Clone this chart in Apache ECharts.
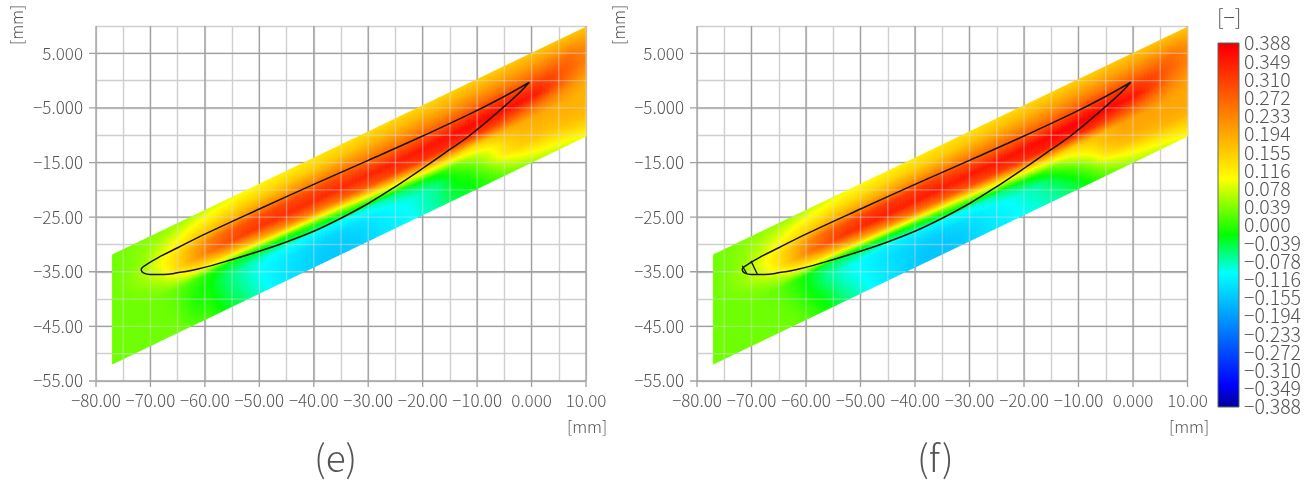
<!DOCTYPE html>
<html><head><meta charset="utf-8">
<style>html,body{margin:0;padding:0;background:#fff}#c{width:1311px;height:484px}</style>
<script src="https://cdn.jsdelivr.net/npm/echarts@6/dist/echarts.min.js"></script>
</head><body><div id="c"></div>
<script>
const xStations=[-77,-74,-71,-68,-65,-62,-59,-56,-53,-50,-47,-44,-41,-38,-35,-32,-29,-26,-23,-20,-17,-14,-11,-8,-5,-2,1,4,7,10];
const bandStations=[0,.1,.2,.3,.4,.5,.6,.7,.8,.9,1];
const bandTopLeft=-31.9, bandTopRight=9.8, bandDepth=20;
const fieldE=[
[.03,.03,.03,.03,.03,.03,.03,.03,.03,.03,.03],
[.035,.035,.035,.04,.035,.03,.03,.03,.03,.03,.03],
[.04,.045,.05,.06,.05,.035,.03,.03,.03,.03,.03],
[.045,.06,.08,.095,.08,.05,.03,.03,.03,.03,.03],
[.05,.08,.11,.14,.14,.08,.025,.02,.025,.03,.03],
[.06,.10,.14,.19,.20,.12,.01,-.005,-.005,.005,.02],
[.075,.115,.16,.24,.25,.14,-.01,-.02,-.015,-.005,.005],
[.085,.125,.18,.27,.29,.16,-.03,-.055,-.05,-.04,-.025],
[.095,.135,.19,.285,.31,.17,-.03,-.075,-.075,-.065,-.05],
[.105,.14,.2,.295,.32,.19,-.02,-.09,-.10,-.095,-.085],
[.11,.145,.205,.30,.325,.21,-.01,-.10,-.115,-.115,-.11],
[.115,.15,.21,.30,.33,.23,.0,-.10,-.125,-.13,-.13],
[.12,.15,.215,.30,.33,.24,.02,-.105,-.135,-.14,-.14],
[.125,.155,.215,.30,.335,.24,.03,-.105,-.14,-.15,-.15],
[.13,.16,.22,.295,.335,.26,.05,-.10,-.14,-.15,-.155],
[.13,.165,.22,.285,.34,.27,.07,-.095,-.13,-.145,-.15],
[.135,.17,.22,.28,.34,.29,.09,-.085,-.12,-.13,-.135],
[.135,.175,.225,.28,.345,.30,.11,-.07,-.105,-.115,-.12],
[.14,.175,.225,.285,.35,.31,.12,-.05,-.095,-.105,-.11],
[.14,.18,.23,.29,.355,.325,.14,-.03,-.08,-.085,-.09],
[.145,.18,.23,.29,.36,.325,.15,-.01,-.06,-.065,-.07],
[.145,.185,.235,.30,.365,.325,.15,.02,-.015,-.03,-.045],
[.15,.19,.24,.31,.37,.325,.14,.06,.01,-.015,-.03],
[.15,.19,.24,.315,.37,.315,.16,.09,.06,.02,-.005],
[.155,.195,.245,.32,.365,.295,.18,.14,.12,.06,.02],
[.16,.195,.245,.31,.365,.275,.19,.17,.15,.09,.04],
[.16,.20,.25,.31,.35,.255,.19,.18,.16,.11,.06],
[.16,.205,.255,.30,.30,.235,.19,.18,.16,.12,.07],
[.16,.21,.26,.27,.25,.21,.185,.185,.17,.13,.08],
[.16,.20,.23,.24,.22,.19,.18,.18,.17,.14,.10]
];
const fieldF=[
[.03,.03,.03,.03,.03,.03,.03,.03,.03,.03,.03],
[.035,.035,.035,.04,.035,.03,.03,.03,.03,.03,.03],
[.04,.045,.05,.055,.05,.035,.03,.03,.03,.03,.03],
[.045,.06,.075,.09,.075,.045,.03,.03,.03,.03,.03],
[.05,.075,.105,.13,.12,.06,.025,.025,.03,.03,.03],
[.055,.095,.13,.18,.185,.10,.0,.005,.015,.025,.03],
[.07,.11,.155,.235,.25,.13,-.03,-.03,-.015,.0,.01],
[.08,.12,.175,.27,.29,.15,-.05,-.07,-.05,-.03,-.015],
[.09,.13,.185,.29,.32,.17,-.05,-.09,-.085,-.07,-.05],
[.10,.135,.195,.305,.335,.19,-.04,-.105,-.105,-.095,-.085],
[.105,.14,.2,.315,.345,.21,-.03,-.115,-.12,-.115,-.11],
[.11,.145,.205,.315,.345,.23,-.02,-.12,-.135,-.13,-.13],
[.115,.15,.21,.315,.345,.245,.0,-.12,-.14,-.145,-.145],
[.12,.15,.215,.315,.35,.255,.02,-.115,-.145,-.155,-.155],
[.125,.155,.215,.305,.35,.27,.04,-.105,-.145,-.155,-.16],
[.13,.16,.22,.30,.35,.28,.06,-.10,-.135,-.15,-.155],
[.13,.165,.22,.29,.355,.295,.08,-.09,-.125,-.135,-.14],
[.135,.17,.225,.285,.355,.305,.10,-.075,-.11,-.12,-.125],
[.135,.175,.225,.285,.36,.315,.11,-.055,-.10,-.11,-.115],
[.14,.175,.23,.29,.365,.33,.13,-.03,-.085,-.095,-.10],
[.14,.18,.23,.29,.37,.34,.14,-.005,-.07,-.08,-.09],
[.145,.185,.235,.30,.375,.34,.15,.03,-.03,-.06,-.075],
[.15,.19,.24,.31,.38,.34,.15,.08,.01,-.03,-.05],
[.15,.19,.245,.32,.38,.33,.17,.12,.06,.01,-.02],
[.155,.195,.245,.325,.375,.31,.18,.17,.13,.06,.015],
[.16,.195,.25,.32,.37,.29,.20,.19,.16,.09,.04],
[.16,.20,.25,.31,.35,.27,.20,.195,.17,.11,.06],
[.16,.205,.255,.30,.30,.25,.20,.195,.175,.12,.07],
[.16,.21,.26,.27,.25,.22,.195,.195,.18,.13,.08],
[.16,.20,.23,.24,.22,.20,.195,.195,.18,.14,.10]
];
const airfoil=[[-0.4,-0.3],[-5.2,-3.0],[-11.3,-6.1],[-19.9,-10.1],[-30,-14.6],[-40,-19],[-50,-23.5],[-60,-28.1],[-65,-30.6],[-68,-32.1],[-70.6,-33.6],[-71.7,-34.6],[-71.3,-35.2],[-70,-35.5],[-67.6,-35.5],[-65.1,-35.2],[-60.9,-34.4],[-54.8,-32.7],[-49.9,-31.2],[-44.9,-29.5],[-39.8,-27.5],[-35.2,-25.3],[-30,-22.5],[-25,-19.4],[-19.9,-16],[-15,-12.6],[-11.3,-10],[-5.2,-4.9],[-2.1,-2.1],[-0.4,-0.3]];
const noseLineA=[[-70.1,-33],[-68.9,-35.5]];
const noseLineB=[[-71.7,-33.9],[-70.9,-35.3]];
const xTicks=[-80,-70,-60,-50,-40,-30,-20,-10,0,10];
const xTickLabels=['−80.00','−70.00','−60.00','−50.00','−40.00','−30.00','−20.00','−10.00','0.000','10.00'];
const yTicks=[-55,-45,-35,-25,-15,-5,5];
const yTickLabels=['−55.00','−45.00','−35.00','−25.00','−15.00','−5.000','5.000'];
const xMinorLines=[-75,-65,-55,-45,-35,-25,-15,-5,5];
const yMinorLines=[-50,-40,-30,-20,-10,0,10];
const scaleLabels=['−0.388','−0.349','−0.310','−0.272','−0.233','−0.194','−0.155','−0.116','−0.078','−0.039','0.000','0.039','0.078','0.116','0.155','0.194','0.233','0.272','0.310','0.349','0.388'];
const colorStops=[[-.388,[0,0,150]],[-.34,[0,0,255]],[-.102,[0,255,255]],[-.021,[0,255,0]],[.098,[255,255,0]],[.375,[255,0,0]],[.388,[225,0,0]]];

function rgbOf(v){
  if(v<=colorStops[0][0])return colorStops[0][1];
  for(let i=1;i<colorStops.length;i++){
    if(v<=colorStops[i][0]){
      const a=colorStops[i-1],b=colorStops[i],t=(v-a[0])/(b[0]-a[0]);
      return a[1].map((c,k)=>Math.round(c+(b[1][k]-c)*t));
    }
  }
  return colorStops[colorStops.length-1][1];
}
function css(c){return 'rgb('+c.join(',')+')';}
const xA=xStations[0],xB=xStations[xStations.length-1];
const bandSlope=(bandTopRight-bandTopLeft)/(xB-xA);
const topAt=x=>bandTopLeft+(x-xA)*bandSlope;
const SUB=6;
function fieldSeries(m,gi){
  const cells=[];
  for(let i=0;i<xStations.length-1;i++)for(let j=0;j<bandStations.length-1;j++)cells.push([i,j]);
  return {type:'custom',xAxisIndex:gi,yAxisIndex:gi,z:2,silent:true,clip:false,data:cells,animation:false,
    renderItem(p,api){
      const i=api.value(0),j=api.value(1);
      const x0=xStations[i],x1=xStations[i+1],s0=bandStations[j],s1=bandStations[j+1];
      const pt=(a,b)=>{const x=x0+(x1-x0)*a,s=s0+(s1-s0)*b;return api.coord([x,topAt(x)-s*bandDepth]);};
      const val=(a,b)=>(m[i][j]*(1-a)+m[i+1][j]*a)*(1-b)+(m[i][j+1]*(1-a)+m[i+1][j+1]*a)*b;
      const children=[];
      for(let u=0;u<SUB;u++)for(let w=0;w<SUB;w++){
        const a=u/SUB,b=w/SUB,d=1/SUB,c=css(rgbOf(val(a+d/2,b+d/2)));
        children.push({type:'polygon',shape:{points:[pt(a,b),pt(a+d,b),pt(a+d,b+d),pt(a,b+d)]},style:{fill:c,stroke:c,lineWidth:.7}});
      }
      return {type:'group',children};
    }};
}
function majorGrid(gi){
  const data=xTicks.map(v=>[0,v]).concat(yTicks.map(v=>[1,v]));
  return {type:'custom',xAxisIndex:gi,yAxisIndex:gi,z:1,silent:true,clip:false,data,animation:false,
    renderItem(p,api){
      const vertical=api.value(0)===0,v=api.value(1);
      const a=vertical?api.coord([v,10]):api.coord([-80,v]);
      const b=vertical?api.coord([v,-55]):api.coord([10,v]);
      const shape=vertical?{x1:a[0],y1:a[1],x2:b[0],y2:b[1]+6}:{x1:a[0]-7,y1:a[1],x2:b[0],y2:b[1]};
      return {type:'line',shape,style:{stroke:'#a0a0a0',lineWidth:1.3}};
    }};
}
/* faint grid showing through the coloured band */
function bandGrid(gi){
  const data=xTicks.concat(xMinorLines).map(v=>[0,v]).concat(yTicks.concat(yMinorLines).map(v=>[1,v]));
  return {type:'custom',xAxisIndex:gi,yAxisIndex:gi,z:4,silent:true,clip:false,data,animation:false,
    renderItem(p,api){
      const vertical=api.value(0)===0,v=api.value(1);
      let a,b;
      if(vertical){
        if(v<xA||v>xB)return null;
        a=api.coord([v,topAt(v)]);b=api.coord([v,topAt(v)-bandDepth]);
      }else{
        const l=Math.max(xA,xA+(v-bandTopLeft)/bandSlope),r=Math.min(xB,xA+(v+bandDepth-bandTopLeft)/bandSlope);
        if(l>=r)return null;
        a=api.coord([l,v]);b=api.coord([r,v]);
      }
      return {type:'line',shape:{x1:a[0],y1:a[1],x2:b[0],y2:b[1]},style:{stroke:'rgba(225,225,225,0.42)',lineWidth:1.4}};
    }};
}
function outline(data,gi,w){
  return {type:'line',xAxisIndex:gi,yAxisIndex:gi,data,showSymbol:false,symbol:'none',smooth:.4,z:8,silent:true,animation:false,lineStyle:{color:'#1c1408',width:w}};
}
const labelFont='"Noto Sans CJK KR","Liberation Sans",Arial,sans-serif';
const labelWeight=300;
function xAxis(gi){return {type:'value',gridIndex:gi,min:-80,max:10,interval:5,z:0,
  axisLine:{show:false},axisTick:{show:false},
  splitLine:{show:true,lineStyle:{color:'#cfcfcf',width:1.4}},
  axisLabel:{customValues:xTicks,formatter:v=>xTickLabels[xTicks.indexOf(v)]||'',color:'#555',fontSize:17,fontWeight:labelWeight,fontFamily:labelFont,margin:11,hideOverlap:false,showMinLabel:true,showMaxLabel:true}};}
function yAxis(gi){return {type:'value',gridIndex:gi,min:-55,max:10,interval:5,z:0,
  axisLine:{show:false},axisTick:{show:false},
  splitLine:{show:true,lineStyle:{color:'#cfcfcf',width:1.4}},
  axisLabel:{customValues:yTicks,formatter:v=>yTickLabels[yTicks.indexOf(v)]||'',color:'#555',fontSize:17,fontWeight:labelWeight,fontFamily:labelFont,margin:13,hideOverlap:false}};}
const panelText=(t,l,tp,size)=>({type:'text',left:l,top:tp,style:{text:t,fill:'#555',font:labelWeight+' '+size+'px '+labelFont}});
const chart=echarts.init(document.getElementById('c'),null,{renderer:'canvas'});
chart.setOption({
  animation:false,backgroundColor:'#fff',
  grid:[
    {left:96,top:26,width:490,height:355},
    {left:697,top:26,width:490.5,height:355},
    {left:1218,top:43,width:21,height:364}
  ],
  xAxis:[xAxis(0),xAxis(1),{type:'value',gridIndex:2,min:0,max:1,show:false}],
  yAxis:[yAxis(0),yAxis(1),{type:'category',gridIndex:2,data:scaleLabels,boundaryGap:false,
    position:'right',axisLine:{show:false},axisTick:{show:false},splitLine:{show:false},
    axisLabel:{interval:0,color:'#555',fontSize:19.5,fontWeight:labelWeight,fontFamily:labelFont,margin:5}}],
  graphic:[
    {type:'text',x:8,y:45,rotation:Math.PI/2,style:{text:'[mm]',fill:'#555',font:labelWeight+' 16.5px '+labelFont}},
    {type:'text',x:610,y:45,rotation:Math.PI/2,style:{text:'[mm]',fill:'#555',font:labelWeight+' 16.5px '+labelFont}},
    panelText('[mm]',567,418,16.5),panelText('[mm]',1169,418,16.5),
    panelText('(e)',314,439,37),panelText('(f)',917,439,37),
    panelText('[−]',1217,7,21)
  ],
  series:[
    majorGrid(0),majorGrid(1),
    fieldSeries(fieldE,0),fieldSeries(fieldF,1),
    bandGrid(0),bandGrid(1),
    outline(airfoil,0,1.5),outline(airfoil,1,1.5),
    outline(noseLineA,1,1.3),outline(noseLineB,1,1.3),
    {type:'custom',xAxisIndex:2,yAxisIndex:2,silent:true,clip:false,z:3,data:[[0]],animation:false,
      renderItem(p,api){
        const a=api.coord([0,scaleLabels.length-1]),b=api.coord([1,0]);
        const range=colorStops[colorStops.length-1][0]-colorStops[0][0];
        const stops=colorStops.map(s=>({offset:1-(s[0]-colorStops[0][0])/range,color:css(s[1])})).reverse();
        return {type:'rect',shape:{x:a[0],y:a[1],width:b[0]-a[0],height:b[1]-a[1]},
          style:{fill:new echarts.graphic.LinearGradient(0,0,0,1,stops),stroke:'#5a6a60',lineWidth:1}};
      }}
  ]
});
</script></body></html>
